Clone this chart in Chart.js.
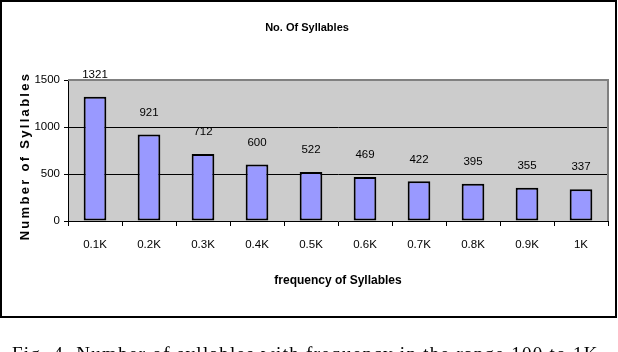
<!DOCTYPE html>
<html>
<head>
<meta charset="utf-8">
<script src="https://cdn.jsdelivr.net/npm/chart.js@4/dist/chart.umd.min.js"></script>
<style>
    html, body { margin: 0; padding: 0; background: #fff; }
    .wrap { position: relative; width: 618px; height: 352px; overflow: hidden; }
    #chart { display: block; }
    .caption {
        position: absolute; left: 12px; top: 344px;
        font: 19px 'Liberation Serif', 'Times New Roman', serif;
        line-height: 1; letter-spacing: 1.3px; white-space: nowrap; color: #000;
    }
</style>
</head>
<body>
<div class="wrap">
    <canvas id="chart" width="618" height="352"></canvas>
    <div class="caption">Fig. 4. Number of syllables with frequency in the range 100 to 1K</div>
</div>
<script>
(function () {
    'use strict';

    // data
    const CATEGORIES = ['0.1K', '0.2K', '0.3K', '0.4K', '0.5K', '0.6K', '0.7K', '0.8K', '0.9K', '1K'];
    const SYLLABLES = [1321, 921, 712, 600, 522, 469, 422, 395, 355, 337];
    const Y_TICKS = [0, 500, 1000, 1500];

    const TITLE = 'No. Of Syllables';
    const X_TITLE = 'frequency of Syllables';
    const Y_TITLE = 'Number of Syllables';

    const FONT = "'Liberation Sans Narrow', 'Liberation Sans', Arial, sans-serif";
    const PLOT_GRAY = '#CCCCCC';
    const BAR_FILL = '#9999FF';

    const framePlugin = {
        id: 'excelFrame',
        beforeDraw: function (chart) {
            const ctx = chart.ctx;
            const a = chart.chartArea;
            ctx.save();
            ctx.fillStyle = '#fff';
            ctx.fillRect(0, 0, chart.width, chart.height);
            ctx.fillStyle = PLOT_GRAY;
            ctx.fillRect(a.left, a.top, a.right - a.left, a.bottom - a.top);
            ctx.restore();
        },
        beforeDatasetsDraw: function (chart) {
            const ctx = chart.ctx;
            const a = chart.chartArea;
            ctx.save();
            ctx.strokeStyle = '#808080';
            ctx.lineWidth = 2;
            ctx.beginPath();
            ctx.moveTo(a.left, a.top);
            ctx.lineTo(a.right, a.top);
            ctx.lineTo(a.right, a.bottom);
            ctx.stroke();
            ctx.restore();
        },
        afterDatasetsDraw: function (chart) {
            const ctx = chart.ctx;
            const meta = chart.getDatasetMeta(0);
            ctx.save();
            ctx.font = '11.5px ' + FONT;
            ctx.fillStyle = '#000';
            ctx.textAlign = 'center';
            ctx.textBaseline = 'middle';
            meta.data.forEach(function (bar, i) {
                ctx.fillText(String(SYLLABLES[i]), bar.x, bar.y - 22);
            });
            ctx.restore();
        },
        afterDraw: function (chart) {
            const ctx = chart.ctx;
            const a = chart.chartArea;
            ctx.save();
            ctx.fillStyle = '#000';
            ctx.textAlign = 'center';
            ctx.textBaseline = 'middle';

            ctx.font = 'bold 11px ' + FONT;
            ctx.fillText(TITLE, 307, 28);
            ctx.font = 'bold 12px ' + FONT;
            ctx.fillText(X_TITLE, (a.left + a.right) / 2, 281);

            ctx.save();
            ctx.translate(25.5, 156);
            ctx.rotate(-Math.PI / 2);
            ctx.font = 'bold 13px ' + FONT;
            ctx.letterSpacing = '2.3px';
            ctx.fillText(Y_TITLE, 0, 0);
            ctx.restore();

            ctx.strokeStyle = '#000';
            ctx.lineWidth = 2;
            ctx.strokeRect(1, 1, 615, 316);
            ctx.restore();
        },
    };

    new Chart(document.getElementById('chart'), {
        type: 'bar',
        data: {
            labels: CATEGORIES,
            datasets: [{
                data: SYLLABLES,
                backgroundColor: BAR_FILL,
                borderColor: '#000',
                borderWidth: 2,
                borderSkipped: false,
                categoryPercentage: 1,
                barPercentage: 0.42,
            }],
        },
        options: {
            responsive: false,
            animation: false,
            layout: { padding: { top: 80, right: 10, left: 0, bottom: 0 } },
            plugins: {
                legend: { display: false },
                title: { display: false },
                tooltip: { enabled: false },
            },
            scales: {
                x: {
                    afterFit: function (scale) { scale.height = 131; },
                    border: { display: true, color: '#000', width: 1 },
                    grid: {
                        offset: true,
                        drawOnChartArea: false,
                        tickLength: 5,
                        tickColor: '#000',
                    },
                    ticks: {
                        color: '#000',
                        padding: 12,
                        maxRotation: 0,
                        font: { family: FONT, size: 11.5 },
                    },
                },
                y: {
                    min: 0,
                    max: 1500,
                    afterFit: function (scale) { scale.width = 68; },
                    afterBuildTicks: function (scale) {
                        scale.ticks = Y_TICKS.map(function (v) { return { value: v }; });
                    },
                    border: { display: true, color: '#000', width: 1 },
                    grid: {
                        color: function (c) {
                            const v = c.tick && c.tick.value;
                            return (v === 500 || v === 1000) ? '#000' : 'rgba(0,0,0,0)';
                        },
                        tickLength: 4,
                        tickColor: '#000',
                    },
                    ticks: {
                        color: '#000',
                        padding: 4,
                        font: { family: FONT, size: 11.5 },
                        callback: function (value) { return String(value); },
                    },
                },
            },
        },
        plugins: [framePlugin],
    });
})();
</script>
</body>
</html>
